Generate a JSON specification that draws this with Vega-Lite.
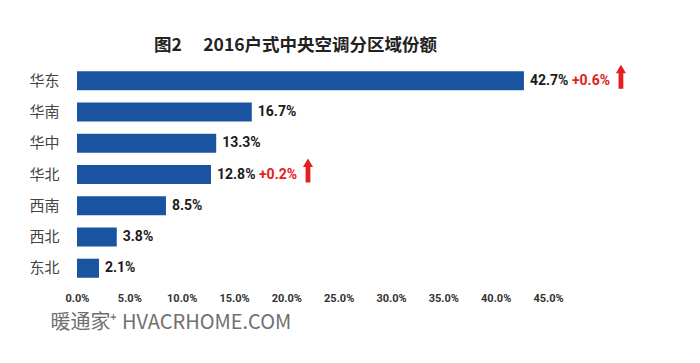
{
  "$schema": "https://vega.github.io/schema/vega-lite/v6.json",
  "width": 471,
  "height": 219,
  "autosize": "none",
  "padding": {"left": 77, "top": 65, "right": 152, "bottom": 79},
  "background": "white",
  "config": {"view": {"stroke": null}},
  "title": {
    "text": "图2\u3000 2016户式中央空调分区域份额",
    "font": "Noto Sans CJK SC",
    "fontSize": 17.5,
    "fontWeight": "bold",
    "color": "#222222",
    "anchor": "middle",
    "dx": -17,
    "offset": 10
  },
  "data": {
    "values": [
      {"region": "华东", "value": 42.7, "delta": "+0.6%"},
      {"region": "华南", "value": 16.7, "delta": null},
      {"region": "华中", "value": 13.3, "delta": null},
      {"region": "华北", "value": 12.8, "delta": "+0.2%"},
      {"region": "西南", "value": 8.5, "delta": null},
      {"region": "西北", "value": 3.8, "delta": null},
      {"region": "东北", "value": 2.1, "delta": null}
    ]
  },
  "transform": [
    {"calculate": "format(datum.value, '.1f') + '%'", "as": "label"}
  ],
  "encoding": {
    "y": {
      "field": "region",
      "type": "nominal",
      "sort": null,
      "scale": {"paddingInner": 0.39, "paddingOuter": 0.2},
      "axis": {
        "title": null,
        "domain": false,
        "ticks": false,
        "labelAlign": "left",
        "labelPadding": 48,
        "labelFont": "Noto Sans CJK SC",
        "labelFontSize": 15,
        "labelColor": "#444444"
      }
    },
    "x": {
      "field": "value",
      "type": "quantitative",
      "scale": {"domain": [0, 45], "nice": false},
      "axis": {
        "values": [0, 5, 10, 15, 20, 25, 30, 35, 40, 45],
        "labelExpr": "format(datum.value, '.1f') + '%'",
        "grid": false,
        "domain": false,
        "ticks": false,
        "labelFont": "Roboto",
        "labelFontWeight": "bold",
        "labelFontSize": 11,
        "labelColor": "#333333",
        "labelPadding": 8,
        "labelFlush": false,
        "title": "暖通家⁺  HVACRHOME.COM",
        "titleFont": "Noto Sans CJK SC",
        "titleFontSize": 20,
        "titleFontWeight": "normal",
        "titleColor": "#707070",
        "titleAnchor": "start",
        "titleAlign": "left",
        "titleX": -27,
        "titleY": 38,
        "titleBaseline": "middle"
      }
    }
  },
  "layer": [
    {"mark": {"type": "bar", "color": "#1a53a0"}},
    {
      "mark": {
        "type": "text",
        "align": "left",
        "dx": 6,
        "font": "Roboto",
        "fontWeight": "bold",
        "fontSize": 14,
        "color": "#1a1a1a"
      },
      "encoding": {"text": {"field": "label"}}
    },
    {
      "transform": [{"filter": "datum.delta != null"}],
      "layer": [
        {
          "mark": {
            "type": "text",
            "align": "left",
            "dx": 48,
            "font": "Roboto",
            "fontWeight": "bold",
            "fontSize": 14,
            "color": "#e3201b"
          },
          "encoding": {"text": {"field": "delta"}}
        },
        {
          "mark": {
            "type": "point",
            "shape": "M0,-1L0.42,-0.3L0.2,-0.3L0.2,1L-0.2,1L-0.2,-0.3L-0.42,-0.3Z",
            "filled": true,
            "color": "#e3201b",
            "opacity": 1,
            "size": 576,
            "xOffset": 97,
            "yOffset": -4
          }
        }
      ]
    }
  ]
}
